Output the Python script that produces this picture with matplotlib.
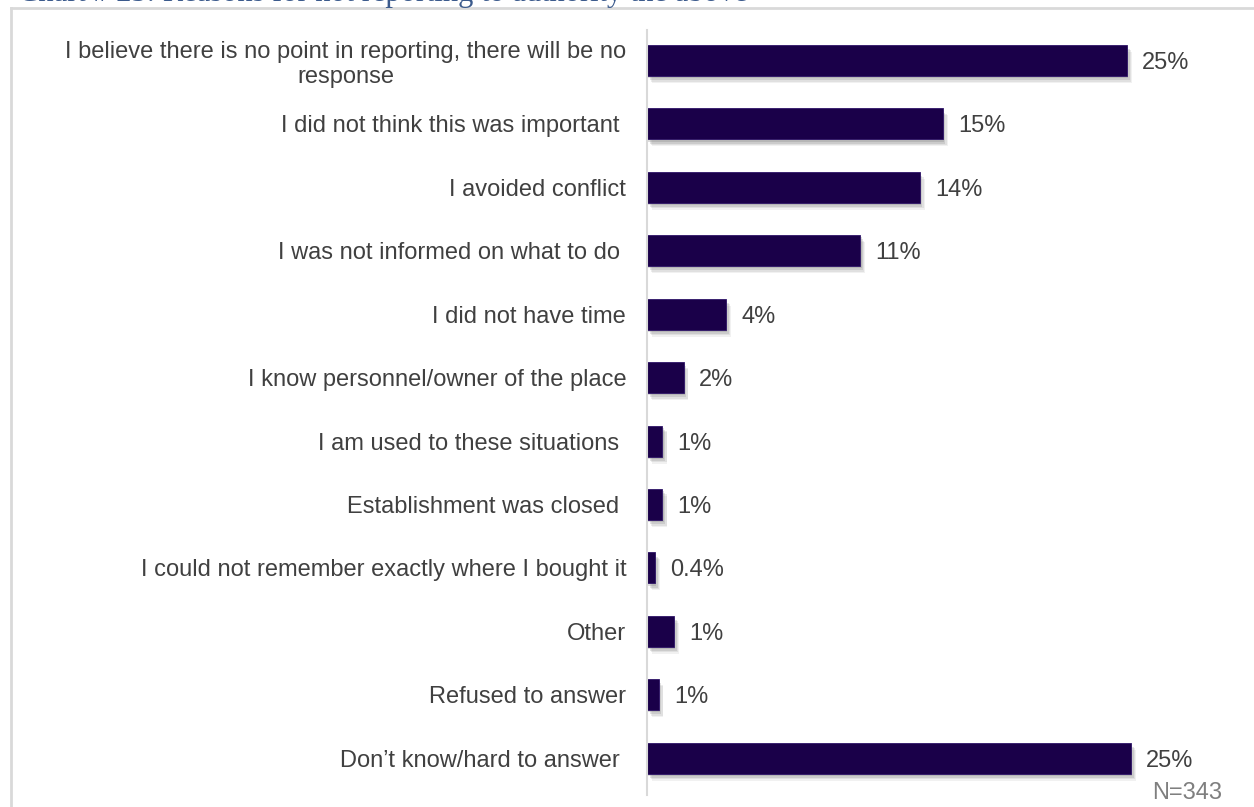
import matplotlib
matplotlib.use('Agg')
from matplotlib import pyplot as plt
import matplotlib.patheffects as pe
import numpy as np

# survey answers, top to bottom
reasons = [
    'I believe there is no point in reporting, there will be no\nresponse',
    'I did not think this was important ',
    'I avoided conflict',
    'I was not informed on what to do ',
    'I did not have time',
    'I know personnel/owner of the place',
    'I am used to these situations ',
    'Establishment was closed ',
    'I could not remember exactly where I bought it',
    'Other',
    'Refused to answer',
    'Don\u2019t know/hard to answer ',
]
shares = [25.0, 15.4, 14.2, 11.1, 4.1, 1.9, 0.8, 0.8, 0.4, 1.4, 0.6, 25.2]
sample_size = 343

title = 'Chart # 25: Reasons for not reporting to authority the above'


def fmt_share(v):
    if v < 0.5:
        return f'{v:.1f}%'
    return f'{round(v)}%'


plt.rcParams['font.family'] = ['Liberation Sans', 'DejaVu Sans']
fs = 17
txt_col = '#404040'

fig = plt.figure(figsize=(12.54, 8.07), dpi=100)
ax = fig.add_axes([0.516, 0.0149, 0.484, 0.9479])

ypos = np.arange(len(reasons))
bar_col = '#1a0049'
bars = ax.barh(ypos, shares, height=0.49, color=bar_col, edgecolor='#2e1468', linewidth=0.6)
# soft drop shadow, built from a few faint offset copies
shadow = [pe.SimplePatchShadow(offset=(dx, -dy), shadow_rgbFace='#7a7a7a', alpha=a)
          for dx, dy, a in [(3.5, 5, 0.10), (3, 4, 0.14), (2, 3, 0.2), (1, 1.5, 0.25)]]
for b in bars:
    b.set_path_effects(shadow + [pe.Normal()])

ax.set_ylim(len(reasons) - 1 + 0.58, -0.48)
ax.set_xlim(0, 607 / 19.2)

# value labels
for y, v in zip(ypos, shares):
    ax.annotate(fmt_share(v), (v, y), xytext=(11, 0), textcoords='offset points',
                va='center_baseline', ha='left', fontsize=fs, color=txt_col)

ax.set_yticks(ypos)
ax.set_yticklabels(reasons, fontsize=fs, color=txt_col, multialignment='center')
ax.tick_params(axis='y', length=0, pad=15)
ax.set_xticks([])

for s in ['top', 'right', 'bottom']:
    ax.spines[s].set_visible(False)
ax.spines['left'].set_color('#d9d9d9')
ax.spines['left'].set_linewidth(1.5)

fig.text(1222 / 1254, 1 - 793 / 807, f'N={sample_size}', ha='right', va='center',
         fontsize=fs, color='#7f7f7f')

# outer frame (left and top edges)
fig.add_artist(plt.Line2D([11 / 1254, 11 / 1254], [0, 1 - 8 / 807], color='#d9d9d9', lw=2))
fig.add_artist(plt.Line2D([11 / 1254, 1], [1 - 8 / 807, 1 - 8 / 807], color='#d9d9d9', lw=2))

fig.text(18 / 1254, 1 - 1.5 / 807, title, ha='left', va='baseline', fontsize=22,
         family='Liberation Serif', color='#3b5a8c')

fig.savefig('out.png', dpi=100)
